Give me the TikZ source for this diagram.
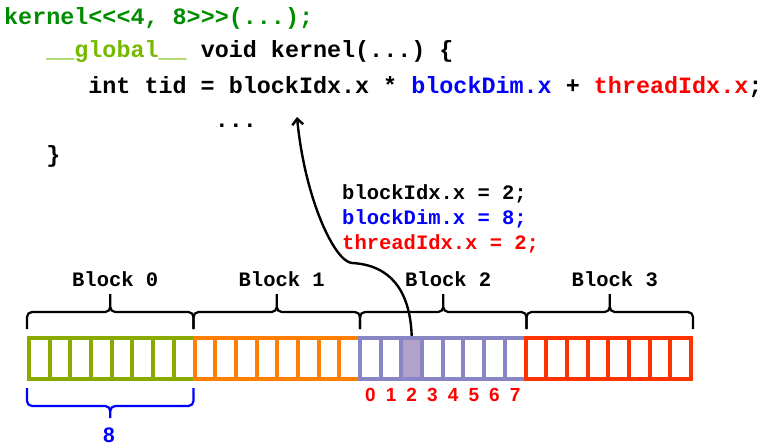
\documentclass[tikz,border=0pt]{standalone}
\usepackage{fontspec}
\setmonofont{Liberation Mono}
\setsansfont{Liberation Sans}
\usetikzlibrary{arrows.meta}

\definecolor{kgreen}{RGB}{0,140,0}
\definecolor{nvgreen}{RGB}{118,185,0}
\definecolor{blkgreen}{RGB}{138,170,0}
\definecolor{blkorange}{RGB}{255,128,0}
\definecolor{blkpurple}{RGB}{136,134,196}
\definecolor{blkred}{RGB}{255,51,0}
\definecolor{selfill}{RGB}{178,162,199}
\definecolor{idblue}{RGB}{0,0,255}
\definecolor{idred}{RGB}{255,0,0}

\tikzset{
  cell/.style={rectangle,minimum width=20.6875pt,minimum height=41pt,inner sep=0pt,line width=4pt,fill=white},
  thread 18/.style={fill=selfill},
  code/.style={anchor=base west,inner sep=0pt,font=\ttfamily\bfseries\fontsize{23.4}{28}\selectfont},
  info/.style={anchor=base west,inner sep=0pt,font=\ttfamily\bfseries\fontsize{20.5}{24}\selectfont},
  blocklabel/.style={anchor=base,inner sep=0pt,font=\ttfamily\bfseries\fontsize{20.5}{24}\selectfont},
  brace/.style={line width=2.2pt,rounded corners=5pt},
  tidlabel/.style={anchor=base,inner sep=0pt,font=\sffamily\bfseries\fontsize{19}{22}\selectfont}
}

\begin{document}
\begin{tikzpicture}[x=1pt,y=-1pt]
    \useasboundingbox (0,0) rectangle (768,447);

    % the kernel code
    \node[code,text=kgreen] (launch) at (4,24) {kernel<<<4, 8>>>(...);};
    \node[code] (head) at (46.1,57.5) {\textcolor{nvgreen}{\_\_global\_\_} void kernel(...) \{};
    \node[code] (tidline) at (88.2,93) {int tid = blockIdx.x * \textcolor{idblue}{blockDim.x} + \textcolor{idred}{threadIdx.x};};
    \node[code] (dots) at (214.6,127.5) {...};
    \node[code] (close) at (46.1,162) {\}};

    \node[info] (bidx) at (342,199) {blockIdx.x = 2;};
    \node[info,text=idblue] (bdim) at (342,224) {blockDim.x = 8;};
    \node[info,text=idred] (tidx) at (342,249) {threadIdx.x = 2;};

    % threads
    \foreach \b/\col in {0/blkgreen,1/blkorange,2/blkpurple,3/blkred}{
        \foreach \t in {0,...,7}{
            \pgfmathtruncatemacro\n{8*\b+\t}
            \node[cell,draw=\col,thread \n/.try] (c\n) at ({29+20.6875*(\n+0.5)},358.5) {};
        }
    }

    % blocks
    \foreach \b in {0,...,3}{
        \pgfmathsetmacro\l{27+166.5*\b}
        \pgfmathsetmacro\r{\l+166.5}
        \pgfmathsetmacro\m{\l+83.25}
        \draw[brace] (\m,294) -- (\m,312) -- (\l,312) -- (\l,329)
                     (\m,294) -- (\m,312) -- (\r,312) -- (\r,329);
        \node[blocklabel] (block\b) at (\m+5,286) {Block \b};
    }

    \foreach \t in {0,...,7}{
        \pgfmathtruncatemacro\n{16+\t}
        \node[tidlabel,text=idred] (tid\t) at ([yshift=-20.5pt]c\n.south) {\t};
    }

    \draw[brace,idblue] (110.25,418) -- (110.25,406) -- (27,406) -- (27,388)
                        (110.25,418) -- (110.25,406) -- (193.5,406) -- (193.5,388);
    \node[tidlabel,text=idblue,font=\sffamily\bfseries\fontsize{21}{24}\selectfont] (dim) at (109,442) {8};

    \coordinate (ptr) at (297,117);
    \draw[line width=2.4pt,-{Straight Barb[length=6pt,width=11pt]}] (c18.north)
        .. controls (410,290) and (390,265) .. (352,263)
        .. controls (335,262) and (305,200) .. (ptr);
\end{tikzpicture}
\end{document}
